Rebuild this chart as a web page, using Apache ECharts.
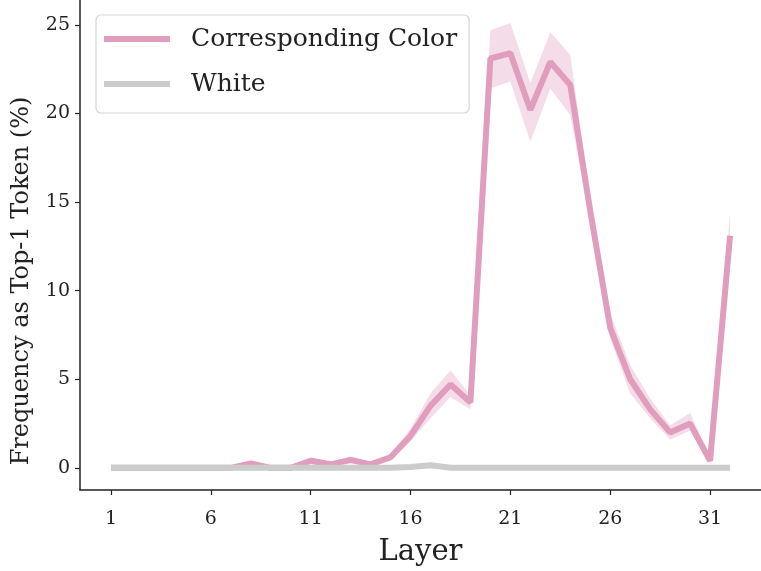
<!DOCTYPE html>
<html><head><meta charset="utf-8">
<script src="https://cdn.jsdelivr.net/npm/echarts@6/dist/echarts.min.js"></script>
<style>html,body{margin:0;padding:0;background:#fff}#c{width:761px;height:571px}</style>
</head><body><div id="c"></div>
<script>
const layers = [1,2,3,4,5,6,7,8,9,10,11,12,13,14,15,16,17,18,19,20,21,22,23,24,25,26,27,28,29,30,31,32];
const colorMean = [0,0,0,0,0,0,0,0.25,0,0,0.4,0.2,0.45,0.2,0.6,1.8,3.5,4.7,3.7,23.1,23.4,20.2,22.9,21.6,14.5,7.9,5.0,3.3,2.0,2.5,0.4,13.1];
const colorLow  = [0,0,0,0,0,0,0,0.1,0,0,0.2,0.1,0.25,0.1,0.4,1.5,2.8,4.0,3.3,21.4,21.8,18.4,21.4,19.9,13.8,7.3,4.2,2.8,1.6,2.1,0.2,12.8];
const colorHigh = [0,0,0,0,0,0,0,0.4,0,0,0.6,0.3,0.65,0.3,0.8,2.2,4.2,5.5,4.1,24.7,25.1,21.7,24.6,23.3,15.2,8.7,5.8,3.9,2.4,3.1,0.6,14.4];
const whiteMean = [0,0,0,0,0,0,0,0,0,0,0,0,0,0,0,0.05,0.15,0,0,0,0,0,0,0,0,0,0,0,0,0,0,0];
const xTicks = [1,6,11,16,21,26,31];
const yTicks = [0,5,10,15,20,25];

const pink = '#e09dbd';
const gray = '#cccccc';
const font = 'DejaVu Serif';
const pair = (arr) => layers.map((x,i)=>[x, arr[i]]);

const chart = echarts.init(document.getElementById('c'), null, {renderer:'canvas'});
chart.setOption({
  animation:false,
  grid:{left:80, right:0, top:0, bottom:81, containLabel:false, outerBoundsMode:'none'},
  xAxis:{type:'value', min:-0.55, max:33.55,
    axisLine:{show:true, onZero:false, lineStyle:{color:'#222', width:1.5}},
    axisTick:{show:true, customValues:xTicks, length:5, lineStyle:{color:'#222', width:1.2}},
    axisLabel:{customValues:xTicks, color:'#222', fontFamily:font, fontSize:19, margin:20},
    splitLine:{show:false},
    name:'Layer', nameLocation:'middle', nameGap:48,
    nameTextStyle:{fontFamily:font, fontSize:29, color:'#222'}},
  yAxis:{type:'value', min:-1.25, max:26.4,
    axisLine:{show:true, onZero:false, lineStyle:{color:'#222', width:1.5}},
    axisTick:{show:true, customValues:yTicks, length:5, lineStyle:{color:'#222', width:1.2}},
    axisLabel:{customValues:yTicks, color:'#222', fontFamily:font, fontSize:19, margin:10},
    splitLine:{show:false}},
  graphic:[{type:'text', x:22, y:281, rotation:Math.PI/2,
    style:{text:'Frequency as Top-1 Token (%)', fontFamily:font, fontSize:24, fill:'#222',
      align:'center', verticalAlign:'middle'}}],
  legend:{data:['Corresponding Color','White'], orient:'vertical', left:96, top:15,
    icon:'rect', itemWidth:66, itemHeight:6, itemGap:15,
    padding:[9,12,14,8],
    borderColor:'#d6d6d6', borderWidth:1.2, borderRadius:5,
    textStyle:{fontFamily:font, fontSize:25, lineHeight:30, color:'#222', padding:[0,0,0,16]}},
  series:[
    {name:'band', type:'custom', silent:true, z:1, data:[[0,0]],
      renderItem:function(params, api){
        const pts = [];
        for (let i=0;i<layers.length;i++) pts.push(api.coord([layers[i], colorHigh[i]]));
        for (let i=layers.length-1;i>=0;i--) pts.push(api.coord([layers[i], colorLow[i]]));
        return {type:'polygon', shape:{points:pts}, style:{fill:pink, opacity:0.35, stroke:null}};
      }},
    {name:'Corresponding Color', type:'line', data:pair(colorMean), symbol:'none',
      lineStyle:{color:pink, width:6}, itemStyle:{color:pink}, z:2},
    {name:'White', type:'line', data:pair(whiteMean), symbol:'none',
      lineStyle:{color:gray, width:6}, itemStyle:{color:gray}, z:3}
  ]
});
</script></body></html>
